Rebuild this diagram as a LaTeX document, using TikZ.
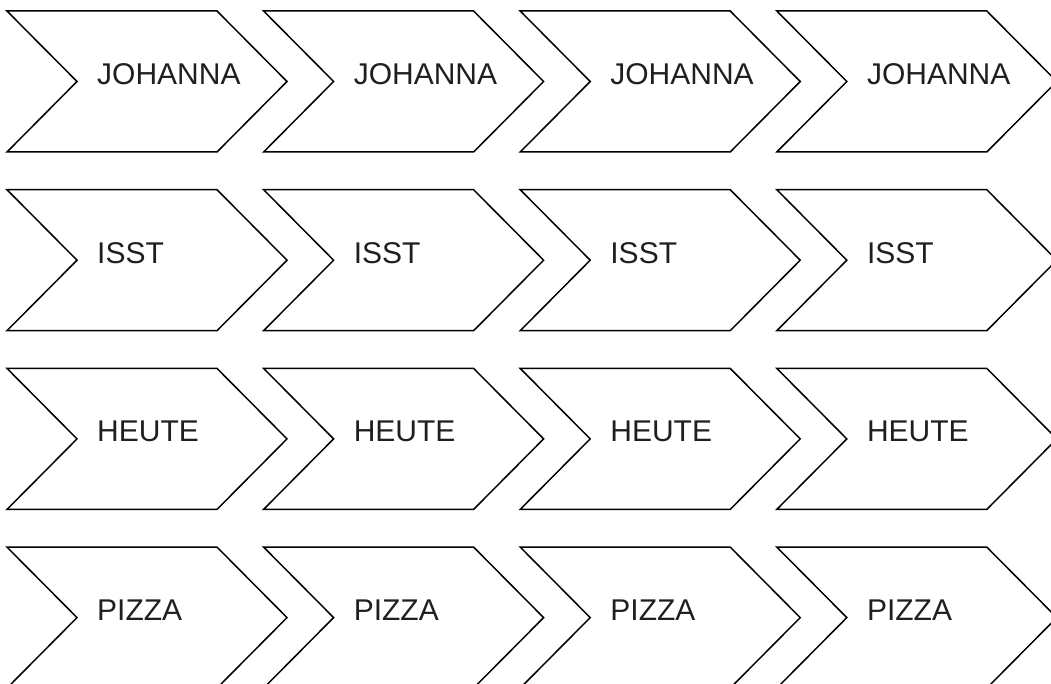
\documentclass[tikz,border=0pt]{standalone}
\usepackage{fontspec}
\setmainfont{Liberation Sans}
\tikzset{
chev/.style={draw, line width=1.5pt, line join=miter},
word/.style={anchor=base west, inner sep=0pt, text=black!88, font=\fontsize{30}{36}\selectfont}
}
\begin{document}
\begin{tikzpicture}[x=1pt, y=-1pt]
\useasboundingbox (0,0) rectangle (1051,684);
\clip (0,0) rectangle (1051,684);
\foreach \w [count=\r from 0] in {JOHANNA,ISST,HEUTE,PIZZA}
\foreach \c in {0,...,3} {
\coordinate (c\r\c) at (7+256.6*\c, 11+178.7*\r);
\draw[chev] (c\r\c) -- ++(210,0) -- ++(70,70.5) -- ++(-70,70.5) -- ++(-210,0) -- ++(70,-70.5) -- cycle;
\node[word] (w\r\c) at ([shift={(90,73.5)}]c\r\c) {\w};
}
\end{tikzpicture}
\end{document}
